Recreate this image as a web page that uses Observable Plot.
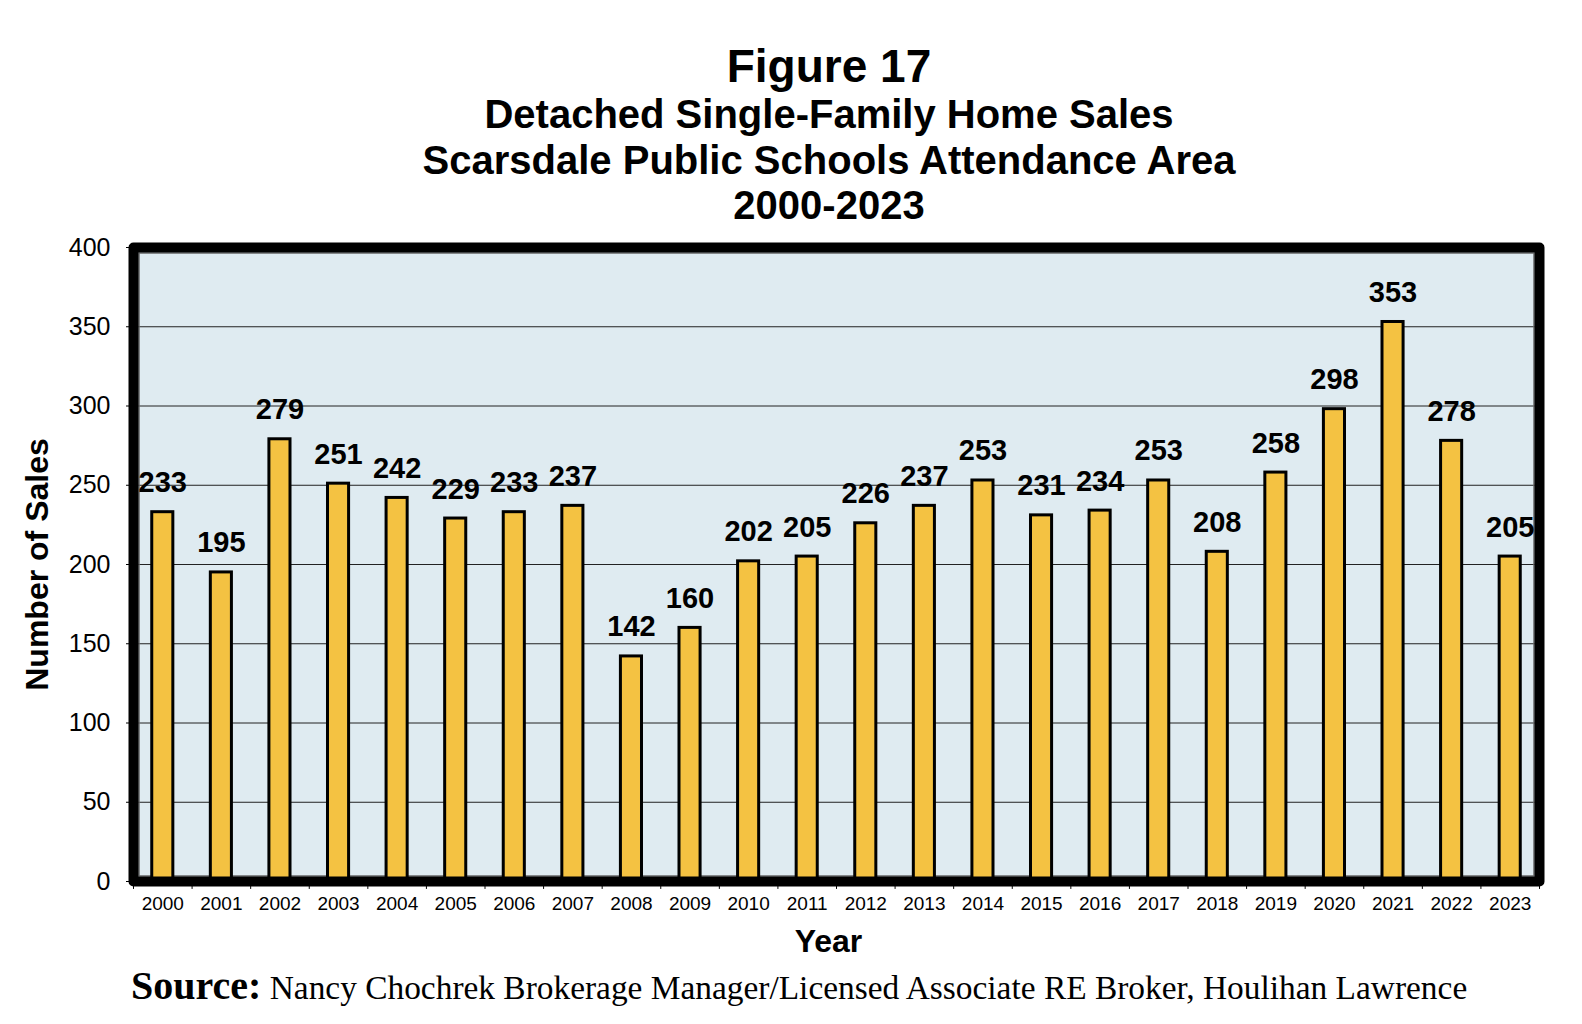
<!DOCTYPE html>
<html><head><meta charset="utf-8">
<script src="https://cdn.jsdelivr.net/npm/d3@7"></script>
<script src="https://cdn.jsdelivr.net/npm/@observablehq/plot@0.6"></script>
<style>
body{margin:0;background:#fff;}
#wrap{position:relative;width:1582px;height:1024px;overflow:hidden;font-family:"Liberation Sans",Arial,sans-serif;}
.t{position:absolute;left:0;width:1658px;text-align:center;font-weight:bold;color:#000;}
#title{top:43px;font-size:46px;line-height:46px;}
#sub{top:92px;font-size:40px;line-height:45.5px;}
#chart{position:absolute;left:0;top:225px;}
#source{position:absolute;left:131px;top:966px;font-family:"Liberation Serif","Times New Roman",serif;font-size:33.4px;line-height:40px;white-space:nowrap;color:#000;}
#source b{font-size:40px;}
</style></head>
<body><div id="wrap">
<div class="t" id="title">Figure 17</div>
<div class="t" id="sub">Detached Single-Family Home Sales<br>Scarsdale Public Schools Attendance Area<br>2000-2023</div>
<div id="chart"></div>
<div id="source"><b>Source:</b> Nancy Chochrek Brokerage Manager/Licensed Associate RE Broker, Houlihan Lawrence</div>
</div>
<script>
const years = ["2000","2001","2002","2003","2004","2005","2006","2007","2008","2009","2010","2011","2012","2013","2014","2015","2016","2017","2018","2019","2020","2021","2022","2023"];
const sales = [233,195,279,251,242,229,233,237,142,160,202,205,226,237,253,231,234,253,208,258,298,353,278,205];
const yTicks = [0,50,100,150,200,250,300,350,400];
const yLabel = "Number of Sales";
const xLabel = "Year";

const data = years.map((year, i) => ({year, sales: sales[i]}));
const W = 1582, H = 740, ML = 133, MR = 43, MT = 22, MB = 84;
const step = (W - ML - MR) / years.length;

const chart = Plot.plot({
  width: W, height: H,
  marginLeft: ML, marginRight: MR, marginTop: MT, marginBottom: MB,
  style: {fontFamily: "'Liberation Sans', Arial, sans-serif", background: "transparent", color: "#000", overflow: "visible"},
  x: {type: "band", domain: years, paddingInner: 0.64, paddingOuter: 0.32, round: false},
  y: {domain: [0, 400]},
  marks: [
    Plot.frame({fill: "#dfebf1", stroke: "none"}),
    Plot.ruleY(yTicks, {stroke: "#222", strokeWidth: 1}),
    Plot.frame({stroke: "#666", strokeWidth: 1.5, inset: 5.5}),
    Plot.barY(data, {x: "year", y: "sales", fill: "#f4c242", stroke: "#000", strokeWidth: 3}),
    Plot.text(data, {x: "year", y: "sales", text: d => String(d.sales), lineAnchor: "bottom", dy: -20, fontSize: 29, fontWeight: "bold", fill: "#000"}),
    Plot.axisY({ticks: yTicks, tickSize: 7, tickPadding: 16, fontSize: 25, label: null, tickFormat: d => String(d)}),
    Plot.axisX({tickSize: 0, tickPadding: 15, fontSize: 19, label: null}),
    Plot.ruleX(years, {x: d => d, dx: -step / 2, y1: 0, y2: -5, stroke: "#000", strokeWidth: 1}),
    Plot.ruleX(years.slice(-1), {x: d => d, dx: step / 2, y1: 0, y2: -5, stroke: "#000", strokeWidth: 1}),
    Plot.frame({stroke: "#000", strokeWidth: 10, strokeLinejoin: "round"}),
    Plot.text([yLabel], {frameAnchor: "left", textAnchor: "middle", rotate: -90, dx: -96, fontSize: 32, fontWeight: "bold", fill: "#000"}),
    Plot.text([xLabel], {frameAnchor: "bottom", textAnchor: "middle", lineAnchor: "bottom", dy: 70, dx: -8, fontSize: 32, fontWeight: "bold", fill: "#000"})
  ]
});
document.getElementById("chart").appendChild(chart);
</script>
</body></html>
